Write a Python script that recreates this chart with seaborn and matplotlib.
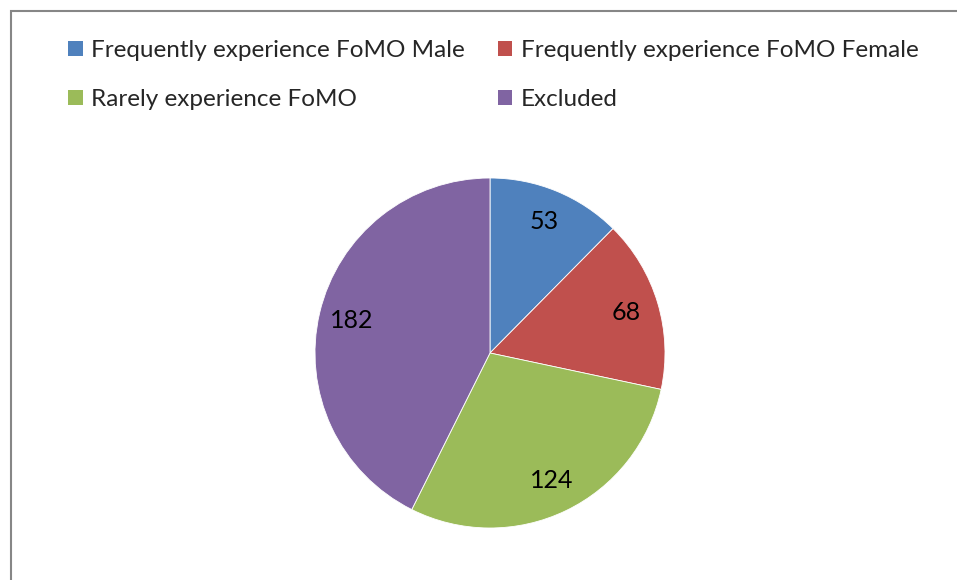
import matplotlib
matplotlib.use("Agg")
import matplotlib.pyplot as plt
import seaborn as sns
from matplotlib.patches import Patch, Rectangle

# data
categories = ["Frequently experience FoMO Male", "Frequently experience FoMO Female",
              "Rarely experience FoMO", "Excluded"]
values = [53, 68, 124, 182]
colors = ["#4F81BD", "#C0504D", "#9BBB59", "#8064A2"]

sns.set_theme(style="white")
plt.rcParams["font.family"] = ["Lato", "DejaVu Sans"]

W, H = 957, 580
fig = plt.figure(figsize=(W / 100, H / 100), dpi=100)

# pie axes, center ~ (490, 353) px, radius ~175 px
cx, cy, r = 490, 353, 175
ax = fig.add_axes([(cx - r) / W, (H - cy - r) / H, 2 * r / W, 2 * r / H])
wedges, texts, autotexts = ax.pie(
    values, colors=colors, startangle=90, counterclock=False, radius=1,
    autopct=lambda p: f"{round(p * sum(values) / 100):d}", pctdistance=0.81,
    textprops={"fontsize": 18, "color": "black"},
    wedgeprops={"linewidth": 0.6, "edgecolor": "white"})
ax.set_xlim(-1, 1)
ax.set_ylim(-1, 1)
ax.set_aspect("equal")
ax.axis("off")

# legend, filled row by row like the original
handles = [Patch(facecolor=c, edgecolor="none") for c in colors]
order = [0, 2, 1, 3]
fig.legend([handles[i] for i in order], [categories[i] for i in order],
           loc="upper left", bbox_to_anchor=(68 / W, 1 - 40 / H),
           ncol=2, frameon=False, fontsize=17.5, handlelength=0.6, handleheight=0.6,
           handletextpad=0.35, columnspacing=1.35, labelspacing=1.15, borderpad=0,
           borderaxespad=0)

# chart border (left and top visible)
fig.patches.append(Rectangle((10.5 / W, -0.1), 1.2, 1 - 10.5 / H + 0.1,
                             transform=fig.transFigure, fill=False,
                             edgecolor="#868686", linewidth=1.5))

fig.savefig("out.png", dpi=100)
